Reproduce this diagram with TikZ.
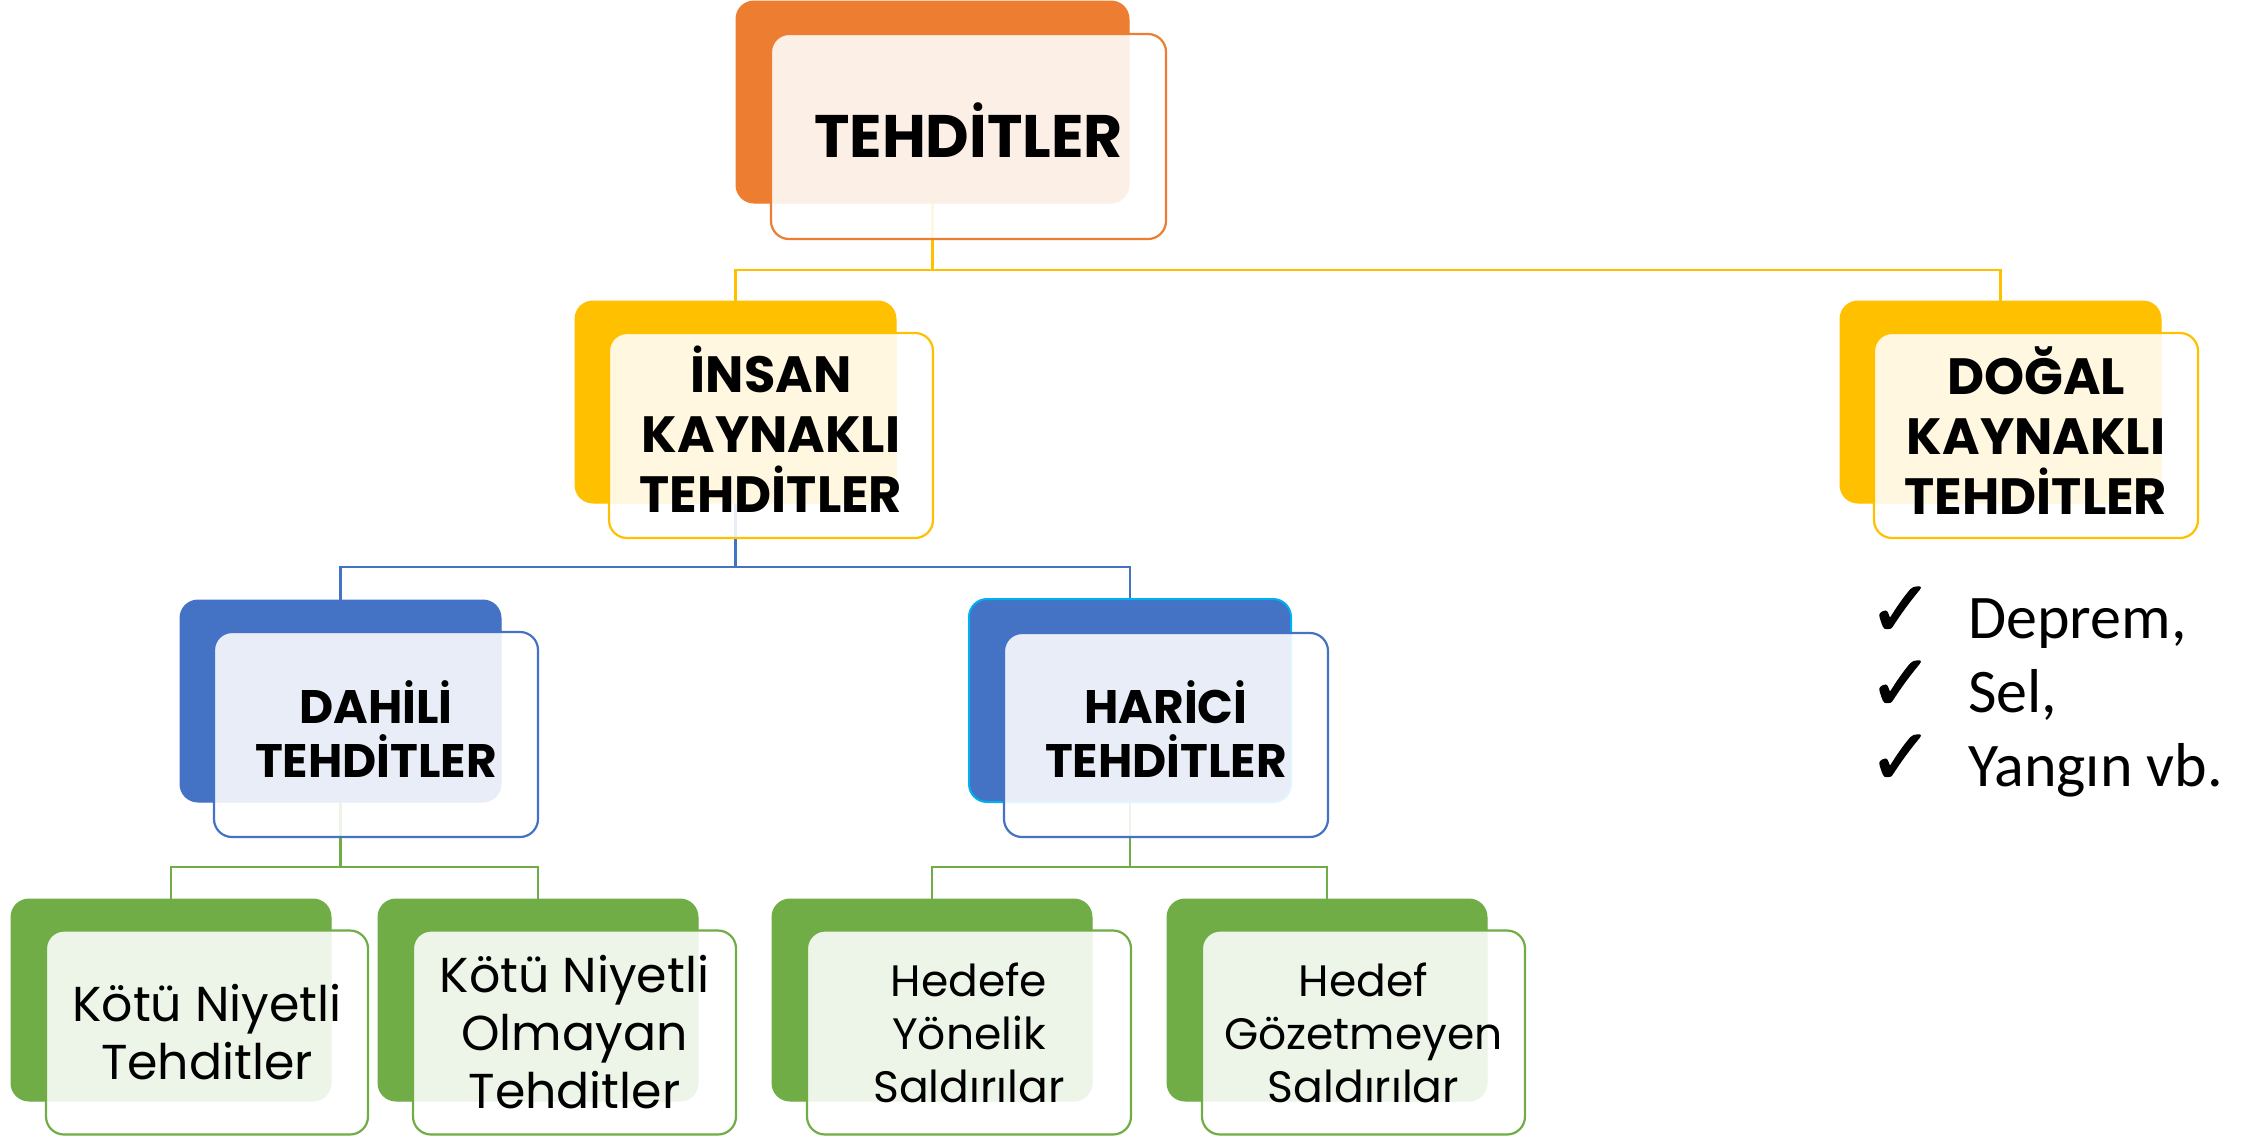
\documentclass[tikz,border=0pt]{standalone}
\usepackage{fontspec}
\setmainfont{Poppins}
\newfontfamily\calibfont{Carlito}
\newfontfamily\dejafont[FakeBold=1.6]{DejaVu Sans}
\usetikzlibrary{backgrounds}
\definecolor{cOr}{HTML}{ED7D31}
\definecolor{cYe}{HTML}{FFC000}
\definecolor{cBl}{HTML}{4472C4}
\definecolor{cGr}{HTML}{70AD47}
\definecolor{cCy}{HTML}{00B0F0}
\newcommand\fTop{\fontsize{60}{70}\selectfont\bfseries}
\newcommand\fMid{\fontsize{51}{60}\selectfont\bfseries}
\newcommand\fSm{\fontsize{47}{54}\selectfont\bfseries}
\newcommand\fRegA{\fontsize{49}{58}\selectfont}
\newcommand\fRegB{\fontsize{44}{53}\selectfont}
\newcommand\fBul{\calibfont\fontsize{62}{74}\selectfont}
\newcommand\fChk{\dejafont\fontsize{78}{90}\selectfont}
\newcommand\dpth[1]{\rule[-#1]{0pt}{#1}}
\tikzset{
  backbox/.style={rectangle, rounded corners=18pt, fill=#1, draw=#1, line width=1pt, inner sep=0pt},
  frontbox/.style={rectangle, rounded corners=18pt, fill=white, fill opacity=0.88, text opacity=1,
    draw=#1, line width=2.2pt, inner sep=0pt, align=center, text=black},
  conn/.style={line width=2.8pt, draw=#1},
  bultext/.style={anchor=base west, inner sep=0pt, font=\fBul},
  chk/.style={anchor=base west, inner sep=0pt, font=\fChk}
}
\begin{document}
\begin{tikzpicture}[x=1pt,y=-1pt]
\useasboundingbox (0,0) rectangle (2260,1136);
% level 0
\node[backbox=cOr, minimum width=393pt, minimum height=202pt] (tb) at (932.5,102) {};
\node[frontbox=cOr, minimum width=395pt, minimum height=205pt, font=\fTop] (tf) at (968.5,136.5) {TEHDİTLER\dpth{12pt}};
% level 1
\node[backbox=cYe, minimum width=321pt, minimum height=202pt] (ib) at (735.5,402) {};
\node[frontbox=cYe, minimum width=324pt, minimum height=205pt, font=\fMid] (if) at (771,435.5) {İNSAN\\KAYNAKLI\\TEHDİTLER\dpth{12pt}};
\node[backbox=cYe, minimum width=321pt, minimum height=202pt] (db) at (2000.5,402) {};
\node[frontbox=cYe, minimum width=324pt, minimum height=205pt, font=\fMid] (df) at (2036,435.5) {DOĞAL\\KAYNAKLI\\TEHDİTLER\dpth{10pt}};
% level 2
\node[backbox=cBl, minimum width=321pt, minimum height=202pt] (dab) at (340.5,701) {};
\node[frontbox=cBl, minimum width=324pt, minimum height=205pt, font=\fSm] (daf) at (376,734.5) {DAHİLİ\\TEHDİTLER\dpth{10pt}};
\node[backbox=cBl, draw=cCy, line width=2pt, minimum width=322pt, minimum height=203pt] (hab) at (1130,700.5) {};
\node[frontbox=cBl, minimum width=324pt, minimum height=204pt, font=\fSm] (haf) at (1166,735) {HARİCİ\\TEHDİTLER\dpth{11pt}};
% level 3
\node[backbox=cGr, minimum width=320pt, minimum height=202pt] (k1b) at (171,1000) {};
\node[frontbox=cGr, minimum width=322pt, minimum height=204pt, font=\fRegA] (k1f) at (207,1032.5) {Kötü Niyetli\\Tehditler};
\node[backbox=cGr, minimum width=320pt, minimum height=202pt] (k2b) at (538,1000) {};
\node[frontbox=cGr, minimum width=323pt, minimum height=204pt, font=\fRegA] (k2f) at (574.5,1032.5) {Kötü Niyetli\\Olmayan\\Tehditler};
\node[backbox=cGr, minimum width=320pt, minimum height=202pt] (h1b) at (932,1000) {};
\node[frontbox=cGr, minimum width=324pt, minimum height=204pt, font=\fRegB] (h1f) at (969,1032.5) {Hedefe\\Yönelik\\Saldırılar};
\node[backbox=cGr, minimum width=320pt, minimum height=202pt] (h2b) at (1327,1000) {};
\node[frontbox=cGr, minimum width=323pt, minimum height=204pt, font=\fRegB] (h2f) at (1363.5,1032.5) {Hedef\\Gözetmeyen\\Saldırılar};
% bullets
\node[chk] (c1) at (1868,636) {✓};
\node[chk] (c2) at (1868,710) {✓};
\node[chk] (c3) at (1868,784) {✓};
\node[bultext] (b1) at (1968,638) {Deprem,};
\node[bultext] (b2) at (1968,712) {Sel,};
\node[bultext] (b3) at (1968,786) {Yangın vb.};
% connectors
\coordinate (busY) at (0,270);
\coordinate (busB) at (0,567);
\coordinate (busG) at (0,867);
\begin{scope}[on background layer]
\draw[conn=cYe] (tb.south) -- (tb.south |- busY) -| (ib.north);
\draw[conn=cYe] (tb.south |- busY) -| (db.north);
\draw[conn=cBl] (ib.south) -- (ib.south |- busB) -| (dab.north);
\draw[conn=cBl] (ib.south |- busB) -| (hab.north);
\draw[conn=cGr] (dab.south) -- (dab.south |- busG) -| (k1b.north);
\draw[conn=cGr] (dab.south |- busG) -| (k2b.north);
\draw[conn=cGr] (hab.south) -- (hab.south |- busG) -| (h1b.north);
\draw[conn=cGr] (hab.south |- busG) -| (h2b.north);
\end{scope}
\end{tikzpicture}
\end{document}
